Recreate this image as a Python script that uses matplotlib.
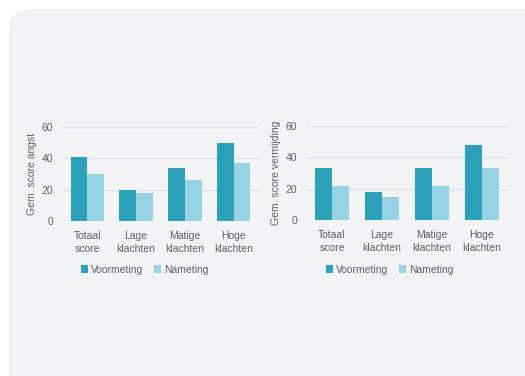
import matplotlib.pyplot as plt
import numpy as np
from matplotlib.patches import FancyBboxPatch

categories = ['Totaal\nscore', 'Lage\nklachten', 'Matige\nklachten', 'Hoge\nklachten']
angst_voor = [41, 20, 34, 50]
angst_na = [30, 18, 26, 37]
vermijding_voor = [33, 18, 33, 48]
vermijding_na = [22, 15, 22, 33]
series_labels = ['Voormeting', 'Nameting']
yticks = [0, 20, 40, 60]

c_voor = '#2ca1b9'
c_na = '#95d3e5'
txt = '#5a6170'
grid = '#dfe2e6'
panel = '#f2f3f5'

plt.rcParams['font.family'] = ['Liberation Sans', 'DejaVu Sans']

fig = plt.figure(figsize=(5.25, 3.76), dpi=100)
fig.patch.set_facecolor('white')

# light rounded panel behind the charts (drawn in pixel units on a full-figure axes)
bg_ax = fig.add_axes([0, 0, 1, 1], zorder=-5)
bg_ax.set_xlim(0, 525)
bg_ax.set_ylim(0, 376)
bg_ax.axis('off')
bg_ax.add_patch(FancyBboxPatch((9, -60), 600, 376 - 9 + 60,
                               boxstyle='round,pad=0,rounding_size=20',
                               facecolor=panel, edgecolor='none'))


def draw(ax, voor, na, ylabel, legend_x):
    x = np.arange(len(categories))
    w = 0.345
    ax.set_facecolor('none')
    ax.bar(x - w / 2, voor, w, color=c_voor, zorder=3)
    ax.bar(x + w / 2, na, w, color=c_na, zorder=3)
    ax.set_ylim(0, 60)
    ax.set_xlim(-0.5, len(categories) - 0.5)
    ax.set_yticks(yticks)
    ax.set_xticks(x)
    ax.set_xticklabels(categories, linespacing=1.35)
    ax.yaxis.grid(True, color=grid, linewidth=1, zorder=0)
    ax.set_axisbelow(True)
    for s in ax.spines.values():
        s.set_visible(False)
    ax.tick_params(axis='both', length=0, colors=txt, labelsize=7.5)
    ax.tick_params(axis='y', pad=7)
    ax.tick_params(axis='x', pad=7)
    ax.set_ylabel(ylabel, color=txt, fontsize=7.5, labelpad=3)
    leg = ax.legend(series_labels, loc='center', bbox_to_anchor=(legend_x, 0.283),
                    bbox_transform=fig.transFigure, ncol=2, frameon=False,
                    fontsize=7.5, handlelength=0.7, handleheight=0.7,
                    handletextpad=0.3, columnspacing=1.0)
    for t in leg.get_texts():
        t.set_color(txt)


ax1 = fig.add_axes([63 / 525, 155 / 376, 195 / 525, 94 / 376])
draw(ax1, angst_voor, angst_na, 'Gem. score angst', 145 / 525)

ax2 = fig.add_axes([307 / 525, 156 / 376, 200 / 525, 94 / 376])
draw(ax2, vermijding_voor, vermijding_na, 'Gem. score vermijding', 390 / 525)

fig.savefig('out.png', dpi=100, facecolor='white')
